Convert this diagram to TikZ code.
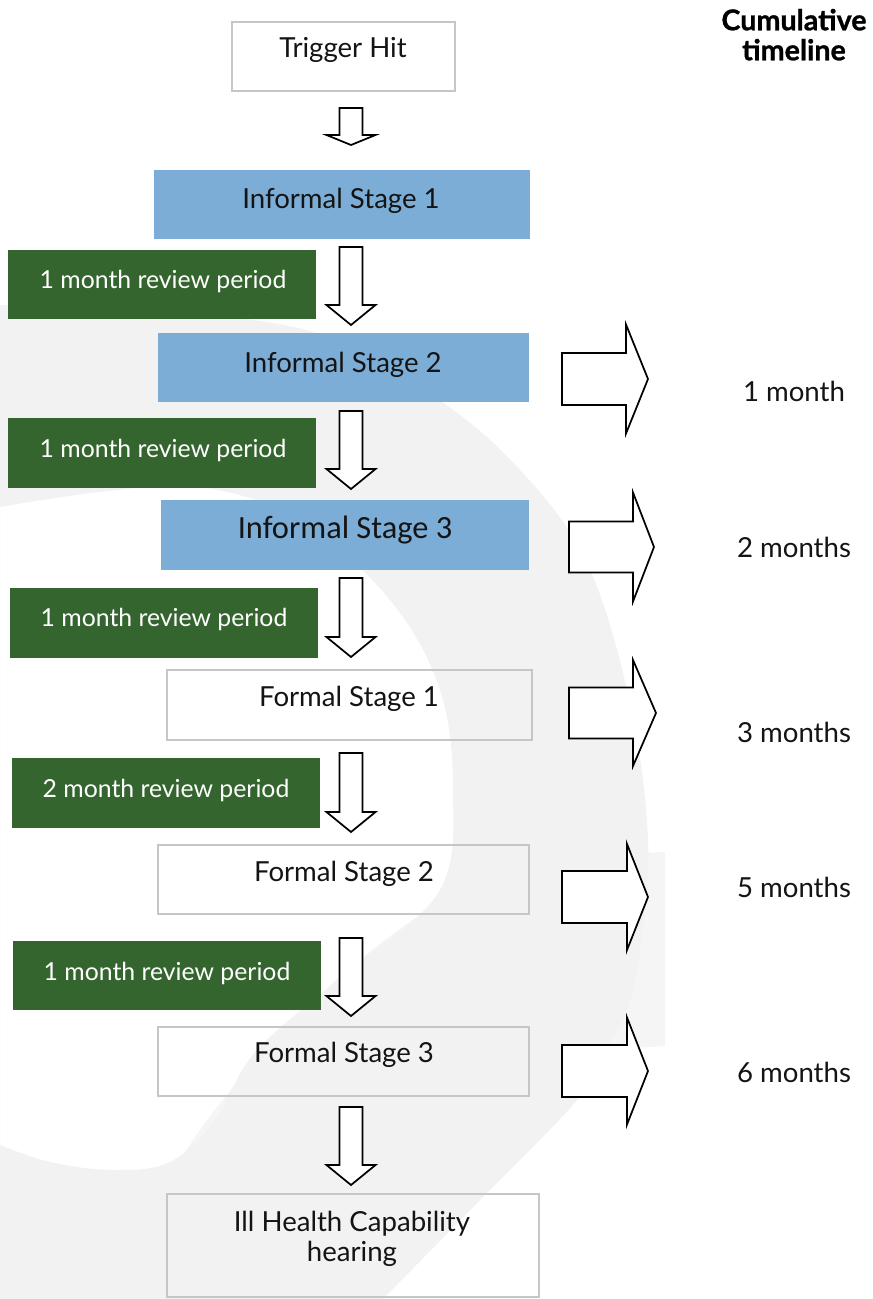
\documentclass[tikz,border=0pt]{standalone}
\usepackage{fontspec}
\setmainfont{Lato}
\newfontfamily\calib{Carlito}
\usetikzlibrary{fit}
\definecolor{blueC}{RGB}{123,173,214}
\definecolor{greenC}{RGB}{53,101,47}
\definecolor{frameC}{RGB}{198,198,198}
\definecolor{bgA}{RGB}{242,242,242}
\definecolor{bgB}{RGB}{245,245,245}
\definecolor{txtC}{RGB}{20,20,20}
\tikzset{
  boxbase/.style={inner sep=0pt, outer sep=0pt},
  bluebox/.style={boxbase, fill=blueC},
  greenbox/.style={boxbase, fill=greenC},
  framebox/.style={boxbase, draw=frameC, line width=1.5pt},
  lbl/.style={font=\fontsize{20.7}{24}\selectfont, text=txtC, inner sep=0pt, text height=14.8pt, text depth=0pt, anchor=center},
  wlbl/.style={font=\fontsize{18.6}{22}\selectfont, text=white, inner sep=0pt, text height=13.3pt, text depth=0pt, anchor=center},
  clbl/.style={font=\calib\fontsize{24.3}{28}\selectfont, text=txtC, inner sep=0pt, text height=15.6pt, text depth=0pt, anchor=center},
  hlbl/.style={font=\bfseries\addfontfeatures{FakeBold=1}\fontsize{21.5}{25}\selectfont, text=black, inner sep=0pt, text height=15.4pt, text depth=0pt, anchor=center},
  blk/.style={draw=black, fill=white, line width=1.3pt, line join=miter},
}
\newcommand\dnarr[4]{%
  \draw[blk] ({#1-11.5},#2) -- ({#1+11.5},#2) -- ({#1+11.5},#3) -- ({#1+24.5},#3) -- (#1,#4) -- ({#1-24.5},#3) -- ({#1-11.5},#3) -- cycle;}
\newcommand\rtarr[6]{%
  \draw[blk] (#1,{#4-#5}) -- (#2,{#4-#5}) -- (#2,{#4-#6}) -- (#3,#4) -- (#2,{#4+#6}) -- (#2,{#4+#5}) -- (#1,{#4+#5}) -- cycle;}
\begin{document}
\begin{tikzpicture}[x=0.75pt, y=-0.75pt]
\useasboundingbox (0,0) rectangle (872,1299);
\fill[white] (0,0) rectangle (872,1299);
% background swoosh
\fill[bgB] (436,905) .. controls (500,875) and (580,855) .. (665,852) -- (665,1046)
  .. controls (560,1052) and (480,1062) .. (436,1076)
  .. controls (330,1100) and (240,1125) .. (180,1160)
  .. controls (230,1080) and (330,970) .. (436,905) -- cycle;
\fill[bgA, even odd rule]
  plot[smooth, tension=0.6] coordinates {(0,305) (150,311) (313,332) (436,398) (520,470) (587,563) (630,703) (648,840) (640,950) (626,1013) (605,1050) (577,1100) (480,1200) (383,1299)} -- (0,1299) -- cycle
  plot[smooth, tension=0.6] coordinates {(0,507) (100,492) (200,487) (300,520) (390,600) (440,690) (453,790) (440,890) (350,970) (257,1050) (215,1120) (170,1162) (113,1170) (50,1162) (0,1145)} -- cycle;
% boxes
\node[framebox, fit={(232,22) (455,91)}] (trig) {};
\node[bluebox, fit={(154,170) (530,239)}] (inf1) {};
\node[greenbox, fit={(8,250) (316,319)}] (g1) {};
\node[bluebox, fit={(158,333) (529,402)}] (inf2) {};
\node[greenbox, fit={(8,418) (316,488)}] (g2) {};
\node[bluebox, fit={(161,500) (529,570)}] (inf3) {};
\node[greenbox, fit={(10,588) (318,658)}] (g3) {};
\node[framebox, fit={(167,670) (532,740)}] (f1) {};
\node[greenbox, fit={(12,758) (320,828)}] (g4) {};
\node[framebox, fit={(158,845) (529,914)}] (f2) {};
\node[greenbox, fit={(13,941) (321,1010)}] (g5) {};
\node[framebox, fit={(158,1027) (529,1096)}] (f3) {};
\node[framebox, fit={(167,1194) (539,1297)}] (ill) {};
% texts
\node[lbl] (ttrig) at (343,48) {Trigger Hit};
\node[lbl] (tinf1) at (341,199) {Informal Stage 1};
\node[wlbl] (tg1) at (163,280) {1 month review period};
\node[lbl] (tinf2) at (343,363) {Informal Stage 2};
\node[wlbl] (tg2) at (163,449) {1 month review period};
\node[clbl] (tinf3) at (345,528) {Informal Stage 3};
\node[wlbl] (tg3) at (164,618) {1 month review period};
\node[lbl] (tf1) at (349,697) {Formal Stage 1};
\node[wlbl] (tg4) at (166,789) {2 month review period};
\node[lbl] (tf2) at (344,872) {Formal Stage 2};
\node[wlbl] (tg5) at (167,972) {1 month review period};
\node[lbl] (tf3) at (344,1053) {Formal Stage 3};
\node[lbl] (till1) at (352,1222) {Ill Health Capability};
\node[lbl] (till2) at (352,1252) {hearing};
\node[hlbl] (hd1) at (794,20) {Cumulative};
\node[hlbl] (hd2) at (794,50) {timeline};
\node[lbl] (m1) at (794,392) {1 month};
\node[lbl] (m2) at (794,548) {2 months};
\node[lbl] (m3) at (794,733) {3 months};
\node[lbl] (m5) at (794,888) {5 months};
\node[lbl] (m6) at (794,1073) {6 months};
% down arrows
\dnarr{351}{108}{135}{145}
\dnarr{351}{247}{305}{325}
\dnarr{351}{411}{469}{489}
\dnarr{351}{578}{637}{657}
\dnarr{351}{753}{812}{832}
\dnarr{351}{938}{996}{1016}
\dnarr{351}{1107}{1165}{1185}
% right arrows
\rtarr{562}{626}{648}{379}{26}{54.5}
\rtarr{569}{633}{654}{547}{25.5}{54.5}
\rtarr{569}{633}{656}{713}{25.5}{53}
\rtarr{562}{627}{648}{897}{26}{53}
\rtarr{562}{627}{648}{1071}{26}{53.5}
\end{tikzpicture}
\end{document}
